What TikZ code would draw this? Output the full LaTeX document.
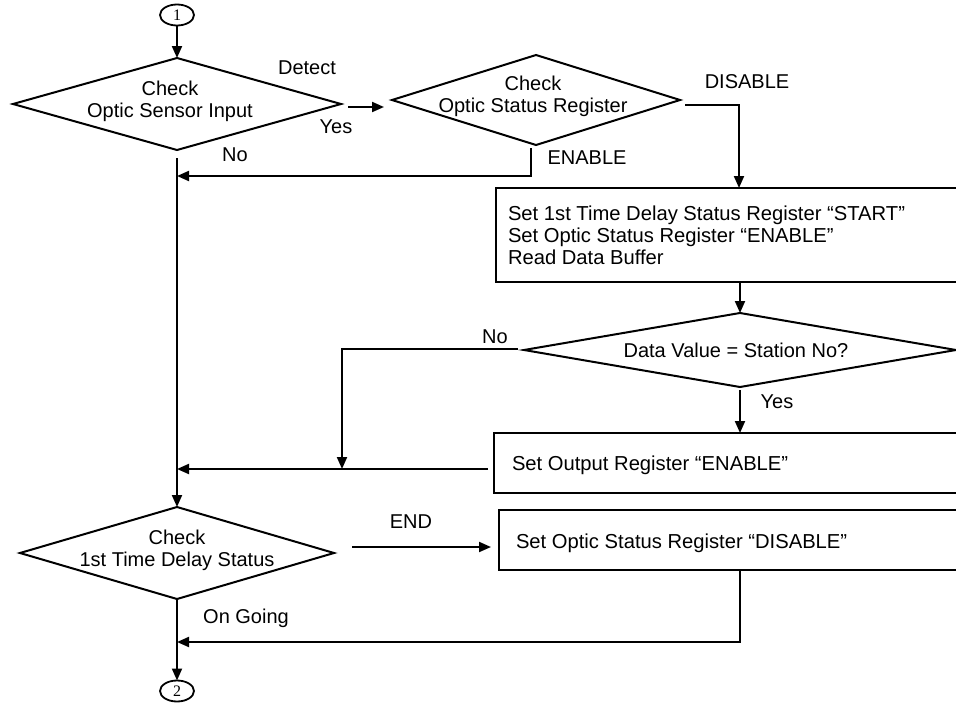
\documentclass[tikz,border=0pt]{standalone}
\usepackage{fontspec}
\setmainfont{Liberation Sans}
\newfontfamily\numfont{Liberation Serif}
\usetikzlibrary{arrows.meta,shapes.geometric,calc}
\begin{document}
\begin{tikzpicture}[x=1pt,y=-1pt,
  every node/.style={inner sep=0pt, outer sep=0pt},
  lbl/.style={font=\fontsize{20}{22}\selectfont},
  txt/.style={font=\fontsize{20}{22}\selectfont, align=center},
  ltxt/.style={font=\fontsize{20.2}{22}\selectfont, align=left, anchor=west},
  dia/.style={draw, diamond, line width=2pt},
  box/.style={draw, rectangle, line width=2pt},
  conn/.style={draw, ellipse, line width=1.8pt, minimum width=34pt, minimum height=21pt, font=\numfont\fontsize{16}{16}\selectfont},
  arr/.style={line width=2pt, -{Triangle[length=12pt,width=10pt]}},
  ]
\useasboundingbox (0,0) rectangle (956,704);
\clip (0,0) rectangle (956,704);
\fill[white] (0,0) rectangle (956,704);

% nodes
\node[conn] (c1) at (177,15) {1};
\node[dia, minimum width=328pt, minimum height=92pt] (d1) at (177,104) {};
\node[txt] (d1t) at (170,101) {Check\\Optic Sensor Input};
\node[dia, minimum width=288pt, minimum height=90pt] (d2) at (536,100) {};
\node[txt] (d2t) at (533,96) {Check\\Optic Status Register};
\node[box, anchor=north west, minimum width=490pt, minimum height=94pt] (b1) at (496,188) {};
\node[ltxt] (b1t) at (508,235) {Set 1st Time Delay Status Register “START”\\Set Optic Status Register “ENABLE”\\Read Data Buffer};
\node[dia, minimum width=432pt, minimum height=74pt] (d3) at (740,350) {};
\node[txt] (d3t) at (736,350) {Data Value = Station No?};
\node[box, anchor=north west, minimum width=490pt, minimum height=60pt] (b2) at (494,433) {};
\node[ltxt] (b2t) at (512,465) {Set Output Register “ENABLE”};
\node[dia, minimum width=314pt, minimum height=92pt] (d4) at (177,553) {};
\node[txt] (d4t) at (177,550) {Check\\1st Time Delay Status};
\node[box, anchor=north west, minimum width=490pt, minimum height=60pt] (b3) at (499,510) {};
\node[ltxt] (b3t) at (516,543) {Set Optic Status Register “DISABLE”};
\node[conn] (c2) at (177,691) {2};

% labels
\node[lbl] (ldetect) at (307,68) {Detect};
\node[lbl] (lyes1) at (336,127) {Yes};
\node[lbl] (lno1) at (235,155) {No};
\node[lbl] (ldis) at (747,82) {DISABLE};
\node[lbl] (len) at (587,158) {ENABLE};
\node[lbl] (lno2) at (495,337) {No};
\node[lbl] (lyes2) at (777,402) {Yes};
\node[lbl] (lend) at (411,522) {END};
\node[lbl] (log) at (246,618) {On Going};

% junction points
\coordinate (b1in) at (739,188);
\coordinate (j1) at (177,176);
\coordinate (j2) at (342,469);
\coordinate (j3) at (177,469);
\coordinate (j4) at (177,642);

% connectors
\draw[arr] (c1.south) -- (d1.north);
\draw[arr] ($(d1.east)+(7,3)$) -- ($(d1.east -| d2.west)+(-8,3)$);
\draw[arr] ($(d2.east)+(5,5)$) -| (b1in);
\draw[arr] ($(d2.south)+(-5,3)$) |- (j1);
\draw[arr] ($(d1.south)+(0,8)$) -- (d4.north);
\draw[arr] (d3.north |- b1.south) -- (d3.north);
\draw[arr] ($(d3.west)+(-6,-1)$) -| (j2);
\draw[arr] ($(d3.south)+(0,3)$) -- (d3.south |- b2.north);
\draw[arr] ($(b2.west |- j3)+(-6,0)$) -- (j3);
\draw[arr] ($(d4.east)+(18,-6)$) -- ($(d4.east -| b3.west)+(-8,-6)$);
\draw[arr] (b3.south -| d3.south) |- (j4);
\draw[arr] (d4.south) -- (c2.north);
\end{tikzpicture}
\end{document}
